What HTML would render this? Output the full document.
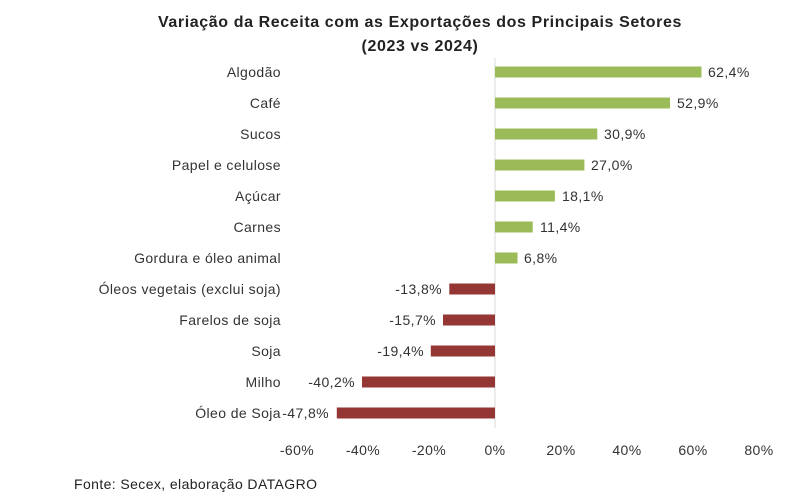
<!DOCTYPE html>
<html><head><meta charset="utf-8"><style>body{margin:0;background:#fff}</style></head><body>
<svg width="800" height="496" xmlns="http://www.w3.org/2000/svg" font-family="Liberation Sans, sans-serif">
<rect width="800" height="496" fill="#fff"/>
<text x="420" y="27" text-anchor="middle" font-size="16" font-weight="bold" fill="#222" letter-spacing="0.6">Variação da Receita com as Exportações dos Principais Setores</text>
<text x="420" y="51" text-anchor="middle" font-size="16" font-weight="bold" fill="#222" letter-spacing="0.6">(2023 vs 2024)</text>
<line x1="495" y1="58" x2="495" y2="428" stroke="#d9d9d9" stroke-width="1"/>
<g font-size="14" fill="#333" letter-spacing="0.4">
<g fill="#9bbb59">
<rect x="495" y="66.5" width="206.5" height="11"/>
<rect x="495" y="97.5" width="175" height="11"/>
<rect x="495" y="128.5" width="102.3" height="11"/>
<rect x="495" y="159.5" width="89.4" height="11"/>
<rect x="495" y="190.5" width="59.9" height="11"/>
<rect x="495" y="221.5" width="37.7" height="11"/>
<rect x="495" y="252.5" width="22.5" height="11"/>
</g>
<g fill="#943634">
<rect x="449.3" y="283.5" width="45.7" height="11"/>
<rect x="443" y="314.5" width="52" height="11"/>
<rect x="430.8" y="345.5" width="64.2" height="11"/>
<rect x="362" y="376.5" width="133" height="11"/>
<rect x="336.8" y="407.5" width="158.2" height="11"/>
</g>
<g text-anchor="end">
<text x="281" y="77">Algodão</text>
<text x="281" y="108">Café</text>
<text x="281" y="139">Sucos</text>
<text x="281" y="170">Papel e celulose</text>
<text x="281" y="201">Açúcar</text>
<text x="281" y="232">Carnes</text>
<text x="281" y="263">Gordura e óleo animal</text>
<text x="281" y="294">Óleos vegetais (exclui soja)</text>
<text x="281" y="325">Farelos de soja</text>
<text x="281" y="356">Soja</text>
<text x="281" y="387">Milho</text>
<text x="281" y="418">Óleo de Soja</text>
</g>
<text x="708" y="77">62,4%</text>
<text x="677" y="108">52,9%</text>
<text x="604" y="139">30,9%</text>
<text x="591" y="170">27,0%</text>
<text x="562" y="201">18,1%</text>
<text x="540" y="232">11,4%</text>
<text x="524" y="263">6,8%</text>
<g text-anchor="end">
<text x="442" y="294">-13,8%</text>
<text x="436" y="325">-15,7%</text>
<text x="424" y="356">-19,4%</text>
<text x="355" y="387">-40,2%</text>
<text x="329" y="418">-47,8%</text>
</g>
<g text-anchor="middle">
<text x="297" y="455">-60%</text>
<text x="363" y="455">-40%</text>
<text x="429" y="455">-20%</text>
<text x="495" y="455">0%</text>
<text x="561" y="455">20%</text>
<text x="627" y="455">40%</text>
<text x="693" y="455">60%</text>
<text x="759" y="455">80%</text>
</g>
<text x="74" y="489" fill="#222">Fonte: Secex, elaboração DATAGRO</text>
</g>
</svg>
</body></html>
